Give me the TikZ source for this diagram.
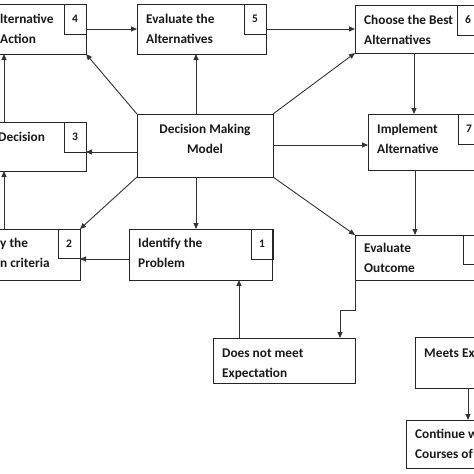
\documentclass[tikz,border=0pt]{standalone}
\usepackage{fontspec}
\setmainfont{Carlito}
\usetikzlibrary{arrows.meta,calc}
\begin{document}
\begin{tikzpicture}[x=1pt,y=-1pt,
  box/.style={draw=black!85,line width=0.9pt,inner sep=0pt,outer sep=0pt,anchor=north west},
  numbox/.style={box,minimum width=22pt,minimum height=30pt,font=\fontsize{11.5}{13}\selectfont\bfseries,text=black!90},
  txt/.style={font=\fontsize{13.3}{20}\selectfont\bfseries,text=black!90,align=left,anchor=base west,inner sep=0pt},
  arr/.style={draw=black!80,line width=0.9pt,-{Triangle[length=6pt,width=5pt]}}]
\useasboundingbox (0,0) rectangle (474,474);
% main boxes
\node[box,minimum width=146pt,minimum height=50pt] (b4) at (-60,4) {};
\node[box,minimum width=129pt,minimum height=50pt] (b5) at (137,4) {};
\node[box,minimum width=185pt,minimum height=48pt] (b6) at (355,5) {};
\node[box,minimum width=146pt,minimum height=49pt] (b3) at (-60,122) {};
\node[box,minimum width=136pt,minimum height=63pt] (c) at (137,114) {};
\node[box,minimum width=172pt,minimum height=56pt] (b7) at (368,114) {};
\node[box,minimum width=150pt,minimum height=51pt] (b2) at (-70,229) {};
\node[box,minimum width=143pt,minimum height=51pt] (b1) at (129,229) {};
\node[box,minimum width=185pt,minimum height=45pt] (eo) at (355,235) {};
\node[box,minimum width=142pt,minimum height=45pt] (dn) at (213,338) {};
\node[box,minimum width=125pt,minimum height=51pt] (me) at (415,337) {};
\node[box,minimum width=134pt,minimum height=48pt] (co) at (406,420) {};
% number boxes
\node[numbox] (n4) at (64,4) {4};
\node[numbox] (n5) at (244,4) {5};
\node[numbox] (n6) at (457,5) {6};
\node[numbox] (n3) at (64,122) {3};
\node[numbox] (n7) at (458,114) {7};
\node[numbox,minimum height=29pt] (n2) at (58,229) {2};
\node[numbox] (n1) at (251,229) {1};
\node[numbox,minimum height=29pt] (n8) at (463,235) {};
% texts (base = baseline of last line)
\node[txt] (t4) at (0,43) {lternative\\Action};
\node[txt] (t5) at (146,43) {Evaluate the\\Alternatives};
\node[txt] (t6) at (364,44) {Choose the Best\\Alternatives};
\node[txt] (t3) at (-2,141) {Decision};
\node[txt,align=center,anchor=base] (tc) at (205,153) {Decision Making\\Model};
\node[txt] (t7) at (377,153) {Implement\\Alternative};
\node[txt] (t2) at (0,267) {y the\\n criteria};
\node[txt] (t1) at (138,267) {Identify the\\Problem};
\node[txt] (te) at (364,272) {Evaluate\\Outcome};
\node[txt] (td) at (222,377) {Does not meet\\Expectation};
\node[txt] (tm) at (424,357) {Meets Ex};
\node[txt] (tk) at (415,458) {Continue w\\Courses of};
% helper coordinates
\coordinate (x4) at (4,0);
\coordinate (x196) at (196,0);
\coordinate (x414) at (414,0);
\coordinate (x415) at (415,0);
\coordinate (x239) at (239,0);
\coordinate (x468) at (468,0);
\coordinate (y145) at (0,145);
\coordinate (bend1) at (355,310);
\coordinate (bend2) at (340,310);
% connectors from center
\draw[arr] (c.north west) -- (b4.south east);
\draw[arr] (c.north -| x196) -- (b5.south -| x196);
\draw[arr] (c.north east) -- (b6.south west);
\draw[arr] (c.west |- n3.south) -- (b3.east |- n3.south);
\draw[arr] (c.east |- y145) -- (b7.west |- y145);
\draw[arr] (c.south west) -- (b2.north east);
\draw[arr] (c.south -| x196) -- (b1.north -| x196);
\draw[arr] (c.south east) -- (eo.north west);
% chain
\draw[arr] (b4.east) -- (b5.west);
\draw[arr] (b5.east) -- (b6.west |- b5.east);
\draw[arr] (b6.south -| x414) -- (b7.north -| x414);
\draw[arr] (b7.south -| x415) -- (eo.north -| x415);
\draw[arr] (b1.west |- n1.south) -- (b2.east |- n1.south);
\draw[arr] (b2.north -| x4) -- (b3.south -| x4);
\draw[arr] (b3.north -| x4) -- (b4.south -| x4);
\draw[arr] (eo.south west) -- (bend1) -- (bend2) -- (dn.north -| bend2);
\draw[arr] (dn.north -| x239) -- (b1.south -| x239);
\draw[arr] (me.south -| x468) -- (co.north -| x468);
\end{tikzpicture}
\end{document}
